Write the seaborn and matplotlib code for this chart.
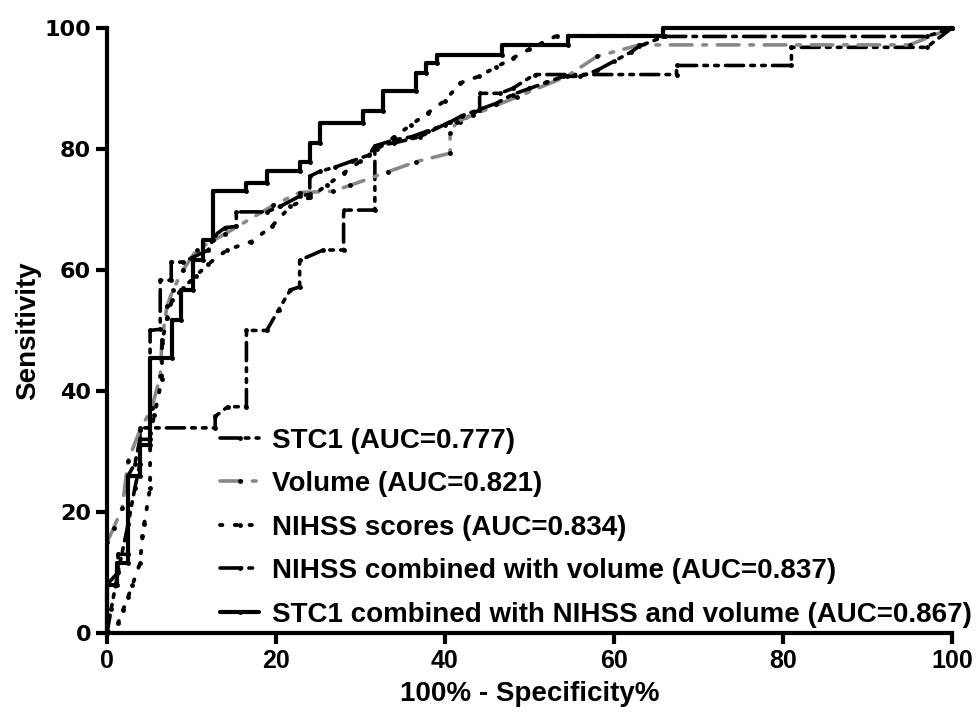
import matplotlib
matplotlib.use("Agg")
import matplotlib.pyplot as plt
import seaborn as sns
import pandas as pd

# ROC curve vertices: (100% - specificity, sensitivity)
stc1_x = [0, 0.5, 1.3, 2.5, 3.3, 3.9, 3.9, 12.8, 12.8, 14.3, 16.5, 16.5, 18.9, 20.3, 21.7, 22.8, 22.8,
          25.6, 28, 28, 31.7, 31.7, 34, 37, 40.6, 41.8, 44.1, 44.1, 46.5, 48, 50.6, 67.4, 67.4, 81, 81, 97, 100]
stc1_y = [0, 4, 10, 18, 24, 28, 33.9, 33.9, 35.8, 37.4, 37.4, 50, 50, 53.4, 56.7, 57.2, 61.6,
          63.3, 63.3, 69.9, 69.9, 80.5, 81, 82, 84.5, 84.5, 86.5, 89.2, 89.2, 90, 92.3, 92.3, 93.8, 93.8, 96.8, 96.8, 100]

volume_x = [0, 0, 0.8, 1.8, 2.5, 3.9, 5.3, 6.3, 6.5, 7.1, 7.8, 9, 10.6, 14, 19.7, 22.8, 26.7, 28.8, 33.2,
            36.6, 40.6, 40.6, 41.4, 43.3, 48.5, 54.4, 58, 63, 95, 100]
volume_y = [0, 15, 17.4, 20.7, 28.5, 33.5, 37.2, 42.4, 48.5, 54, 56.7, 60, 63.3, 66, 70.7, 72.8, 73, 74, 76.2,
            77.9, 79.3, 82.6, 84.5, 85.6, 88.6, 92, 95.3, 97.2, 97.2, 100]

nihss_x = [0, 1.3, 1.9, 2.5, 3, 3.9, 4.2, 4.4, 5.1, 5.1, 5.6, 6.5, 6.5, 7.1, 7.7, 9, 10.5, 12, 14.2, 17.1,
           19.5, 21.7, 24, 26, 28, 30, 32, 34, 36, 38, 40, 41.8, 44, 46, 48, 50, 53.2, 65.8, 65.8, 100]
nihss_y = [0, 1.6, 3.8, 6, 7.9, 11.5, 16, 18, 24, 33, 36, 42, 48, 52, 55, 57, 59, 61, 63.3, 64.7,
           67.2, 70.5, 72, 74, 76, 78, 80, 82, 84, 86, 88, 90.9, 92, 93.5, 95, 96.5, 98.7, 98.7, 100, 100]

combo_x = [0, 0, 1.3, 1.3, 2.5, 2.5, 3.3, 3.9, 5.1, 5.1, 6.3, 6.3, 7.6, 7.6, 9, 10, 12, 12.8, 14, 15.3,
           15.3, 18.9, 20.5, 22.8, 24, 24, 25.2, 27, 29, 31, 31.7, 34, 36, 38, 40, 42, 44, 46, 48, 50,
           52, 54, 56, 58, 60, 62, 63, 66, 97, 100]
combo_y = [0, 8, 10, 13, 13, 26, 28, 32, 32, 50, 50.2, 58.3, 58.3, 61.3, 61.3, 62, 63.3, 65.8, 67, 67.2,
           69.6, 69.6, 70.5, 72.2, 72.5, 75.5, 76.3, 77, 78, 79, 80.5, 81.5, 82, 83, 84, 85.5, 86.5, 87.5, 89, 90,
           91, 92, 92, 93, 94.5, 96, 97, 98.6, 98.6, 100]

all_x = [0, 0, 1.15, 1.15, 2.5, 2.5, 3.9, 3.9, 5.1, 5.1, 7.65, 7.65, 8.8, 8.8, 10.2, 10.2, 11.4, 11.4,
         12.5, 12.5, 16.5, 16.5, 18.9, 18.9, 22.8, 22.8, 24, 24, 25.2, 25.2, 30.3, 30.3, 32.7, 32.7,
         36.6, 36.6, 37.8, 37.8, 39, 39, 46.8, 46.8, 54.6, 54.6, 65.8, 65.8, 100]
all_y = [0, 7.9, 7.9, 11.6, 11.6, 26, 26, 31, 31, 45.4, 45.4, 51.7, 51.7, 56.7, 56.7, 61.6, 61.6, 65,
         65, 73, 73, 74.4, 74.4, 76.3, 76.3, 77.9, 77.9, 81, 81, 84.3, 84.3, 86.2, 86.2, 89.5,
         89.5, 92.5, 92.5, 94.2, 94.2, 95.5, 95.5, 97.2, 97.2, 98.7, 98.7, 100, 100]

labels = ["STC1 (AUC=0.777)", "Volume (AUC=0.821)", "NIHSS scores (AUC=0.834)",
          "NIHSS combined with volume (AUC=0.837)", "STC1 combined with NIHSS and volume (AUC=0.867)"]

series = [
    (stc1_x, stc1_y, "black", (0, (5, 2, 1, 2, 1, 2)), 2.6),
    (volume_x, volume_y, "#888888", (0, (6, 3, 1, 3)), 2.6),
    (nihss_x, nihss_y, "black", (0, (0.6, 3.2)), 2.8),
    (combo_x, combo_y, "black", (0, (6, 2, 1, 2)), 2.6),
    (all_x, all_y, "black", "-", 3.0),
]

sns.set_style("ticks", {"axes.edgecolor": "black", "text.color": "black", "axes.labelcolor": "black",
                        "xtick.color": "black", "ytick.color": "black"})
narrow = ["Liberation Sans", "DejaVu Sans"]

fig = plt.figure(figsize=(9.79, 7.17), dpi=100)
ax = fig.add_axes([0.1093, 0.1172, 0.8631, 0.8438])

for (xs, ys, col, ls, lw), lab in zip(series, labels):
    df = pd.DataFrame({"fpr": xs, "sens": ys})
    sns.lineplot(data=df, x="fpr", y="sens", sort=False, estimator=None, ax=ax,
                 color=col, linestyle=ls, linewidth=lw, label=lab,
                 marker="o", markersize=3.5, markerfacecolor="black", markeredgewidth=0,
                 dash_capstyle="round", clip_on=False)

ax.set_xlim(0, 100)
ax.set_ylim(0, 100)
ax.set_xticks([0, 20, 40, 60, 80, 100])
ax.set_yticks([0, 20, 40, 60, 80, 100])
sns.despine(ax=ax)
for sp in ["left", "bottom"]:
    ax.spines[sp].set_linewidth(3)
ax.tick_params(width=3, length=8, direction="out", colors="black")

for t in ax.get_xticklabels():
    t.set_fontfamily(narrow)
    t.set_fontweight("bold")
    t.set_fontsize(18)
for t in ax.get_yticklabels():
    t.set_fontfamily("DejaVu Sans")
    t.set_fontweight("bold")
    t.set_fontsize(16)

ax.set_xlabel("100% - Specificity%", fontsize=20, fontweight="bold", family=narrow, labelpad=6)
ax.set_ylabel("Sensitivity", fontsize=20, fontweight="bold", family=narrow, labelpad=2)

leg = ax.legend(loc="lower left", bbox_to_anchor=(0.134, 0.009), frameon=False, numpoints=1,
                borderaxespad=0, borderpad=0, handlelength=1.4, handletextpad=0.45,
                labelspacing=0.63, prop={"family": narrow, "weight": "bold", "size": 20})

fig.savefig("out.png", dpi=100)
